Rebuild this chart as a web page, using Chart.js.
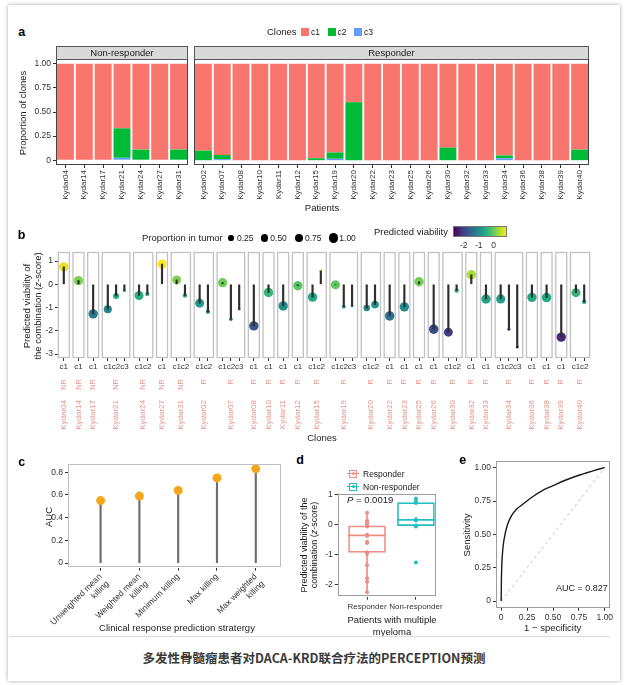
<!DOCTYPE html>
<html><head><meta charset="utf-8">
<script src="https://cdn.jsdelivr.net/npm/chart.js@4/dist/chart.umd.min.js"></script>
<style>
html,body{margin:0;padding:0;background:#fff;width:630px;height:685px;overflow:hidden;font-family:"Liberation Sans",Arial,Helvetica,sans-serif;}
#card{position:absolute;left:8px;top:5px;width:612px;height:676px;background:#fff;box-shadow:0 0 4px rgba(0,0,0,0.35);}
canvas{position:absolute;z-index:1;}
.t{position:absolute;white-space:nowrap;color:#1a1a1a;line-height:1;z-index:2;}
.sw{position:absolute;z-index:2;}
</style></head><body>
<div id="card"></div>
<canvas id="a1" width="192" height="170" style="left:0;top:40px"></canvas>
<canvas id="a2" width="402" height="170" style="left:190px;top:40px"></canvas>
<canvas id="b" width="600" height="205" style="left:0;top:240px"></canvas>
<canvas id="c" width="290" height="190" style="left:0;top:450px"></canvas>
<canvas id="d" width="160" height="160" style="left:290px;top:470px"></canvas>
<canvas id="e" width="170" height="190" style="left:450px;top:450px"></canvas>
<script>
// ================= DATA =================
const patients = ['Kydar04','Kydar14','Kydar17','Kydar21','Kydar24','Kydar27','Kydar31',
  'Kydar02','Kydar07','Kydar08','Kydar10','Kydar11','Kydar12','Kydar15','Kydar19','Kydar20','Kydar22','Kydar23',
  'Kydar25','Kydar26','Kydar30','Kydar32','Kydar33','Kydar34','Kydar36','Kydar38','Kydar39','Kydar40'];
const responseGroup = ['NR','NR','NR','NR','NR','NR','NR',
  'R','R','R','R','R','R','R','R','R','R','R','R','R','R','R','R','R','R','R','R','R'];
const cloneNames = ['c1','c2','c3'];
// proportion of each clone per patient (panel a)
const propC1 = [1,1,1,0.67,0.89,1,0.89, 0.90,0.945,1,1,1,1,0.98,0.92,0.40,1,1,1,1,0.87,1,1,0.95,1,1,1,0.89];
const propC2 = [0,0,0,0.305,0.11,0,0.11, 0.10,0.045,0,0,0,0,0.02,0.065,0.60,0,0,0,0,0.13,0,0,0.03,0,0,0,0.11];
const propC3 = [0,0,0,0.025,0,0,0, 0,0.01,0,0,0,0,0,0.015,0,0,0,0,0,0,0,0,0.02,0,0,0,0];
const yTicksA = [0,0.25,0.5,0.75,1];
const yTickLabelsA = ['0','0.25','0.50','0.75','1.00'];
// predicted viability z-score per clone (panel b)
const viabC1 = [0.75,0.16,-1.27,-1.07,-0.48,0.87,0.19, -0.81,0.07,-1.79,-0.35,-0.93,-0.06,-0.55,-0.02,-1.02,-1.36,-0.97,0.11,-1.93,-2.06,0.41,-0.63,-0.63,-0.56,-0.57,-2.27,-0.36];
const viabC2 = [null,null,null,-0.50,-0.42,null,-0.48, -1.18,-1.50,null,null,null,null,0.57,-0.96,-0.87,null,null,null,null,-0.27,null,null,-1.93,null,null,null,-0.75];
const viabC3 = [null,null,null,-0.27,null,null,null, null,-1.07,null,null,null,null,null,-0.93,null,null,null,null,null,null,null,null,-2.70,null,null,null,null];
const yTicksB = [-3,-2,-1,0,1];
// panel c
const strategies = [['Unweighted mean','killing'],['Weighted mean','killing'],'Minimum killing','Max killing',['Max weighted','killing']];
const aucValues = [0.55,0.59,0.64,0.75,0.83];
const yTicksC = [0,0.2,0.4,0.6,0.8];
const yTickLabelsC = ['0','0.2','0.4','0.6','0.8'];
// panel d
const groupsD = ['Responder','Non-responder'];
const respPoints = [0.40,0.13,0.08,0.03,0.0,-0.03,-0.06,-0.34,-0.38,-0.57,-0.62,-0.93,-0.98,-1.36,-1.80,-1.92,-2.27];
const nonRespPoints = [0.88,0.78,0.73,0.18,0.14,-0.03,-0.06,-1.27];
const boxQ1 = [-0.93,-0.03];
const boxMedian = [-0.36,0.16];
const boxQ3 = [-0.04,0.74];
const whiskerLow = [-2.27,-0.06];
const whiskerHigh = [0.40,0.88];
const yTicksD = [-2,-1,0,1];
// panel e
const rocFPR = [0,0.002,0.005,0.01,0.02,0.04,0.06,0.1,0.15,0.2,0.3,0.4,0.5,0.6,0.7,0.8,0.9,1];
const rocTPR = [0,0.15,0.25,0.33,0.42,0.51,0.57,0.64,0.69,0.72,0.78,0.83,0.865,0.9,0.93,0.955,0.98,1];
const ticksE = [0,0.25,0.5,0.75,1];
const tickLabelsE = ['0','0.25','0.50','0.75','1.00'];

// ================= STYLE =================
const FONT = '"Liberation Sans", Arial, Helvetica, sans-serif';
Chart.defaults.font.family = FONT;
Chart.defaults.font.size = 8;
Chart.defaults.color = '#333';
Chart.defaults.animation = false;
Chart.defaults.responsive = false;
Chart.defaults.events = [];
Chart.defaults.plugins.legend.display = false;
Chart.defaults.plugins.tooltip.enabled = false;

const cloneColors = ['#F8766D','#00BA38','#619CFF'];
const VIR = ['#440154','#482475','#414487','#355f8d','#2a788e','#21918c','#22a884','#44bf70','#7ad151','#bddf26','#fde725'];
const VIR_MIN = -2.7, VIR_MAX = 0.87;
function hex2rgb(h){return [1,3,5].map(i=>parseInt(h.substr(i,2),16));}
function viridis(v){
  let t = (v-VIR_MIN)/(VIR_MAX-VIR_MIN); t=Math.max(0,Math.min(1,t));
  const s=t*(VIR.length-1), i=Math.min(Math.floor(s),VIR.length-2), f=s-i;
  const a=hex2rgb(VIR[i]), b=hex2rgb(VIR[i+1]);
  return 'rgb('+a.map((x,k)=>Math.round(x+(b[k]-x)*f)).join(',')+')';
}
const fixW = w => s => { s.width = w; };
const fixH = h => s => { s.height = h; };
const ticksAt = vals => ax => { ax.ticks = vals.map(v => ({value: v})); };
const tickGrid = {display:true, drawOnChartArea:false, tickLength:3, color:'#333', offset:false};

function framePlugin(color, lw){
  return {id:'frame', afterDatasetsDraw(chart){
    const {ctx, chartArea:a} = chart; ctx.save(); ctx.strokeStyle=color; ctx.lineWidth=lw;
    ctx.strokeRect(Math.round(a.left)+0.5, Math.round(a.top)+0.5, Math.round(a.right-a.left)-1, Math.round(a.bottom-a.top)-1);
    ctx.restore(); }};
}
function stripPlugin(text){
  return {id:'strip', afterDraw(chart){
    const {ctx, chartArea:a} = chart; ctx.save();
    ctx.fillStyle='#d9d9d9'; ctx.fillRect(a.left, a.top-13, a.right-a.left, 13);
    ctx.strokeStyle='#555'; ctx.lineWidth=1;
    ctx.strokeRect(Math.round(a.left)+0.5, Math.round(a.top-13)+0.5, Math.round(a.right-a.left)-1, 13);
    ctx.fillStyle='#1a1a1a'; ctx.font='9.5px '+FONT; ctx.textAlign='center'; ctx.textBaseline='middle';
    ctx.fillText(text, (a.left+a.right)/2, a.top-6);
    ctx.restore(); }};
}

// ================= PANEL A =================
function panelA(id, group, showY, padL, padR, title){
  const idx = patients.map((p,i)=>i).filter(i=>responseGroup[i]===group);
  const yScale = {display:showY, stacked:true, min:-0.05, max:1.05, grid:tickGrid, border:{display:false},
           afterBuildTicks: ticksAt(yTicksA),
           ticks:{padding:2, font:{size:8.5}, color:'#333', callback:(v,i)=>yTickLabelsA[i]}};
  if (showY) yScale.afterFit = fixW(56);
  new Chart(document.getElementById(id), {
    type:'bar',
    data:{labels: idx.map(i=>patients[i]), datasets:[
      {label:'c3', data: idx.map(i=>propC3[i]), backgroundColor: cloneColors[2]},
      {label:'c2', data: idx.map(i=>propC2[i]), backgroundColor: cloneColors[1]},
      {label:'c1', data: idx.map(i=>propC1[i]), backgroundColor: cloneColors[0]}
    ]},
    options:{
      layout:{padding:{left:padL, right:padR, top:19, bottom:0}},
      datasets:{bar:{barPercentage:0.9, categoryPercentage:1, borderWidth:0}},
      scales:{
        x:{stacked:true, grid:tickGrid, border:{display:false},
           ticks:{minRotation:90, maxRotation:90, autoSkip:false, padding:2, font:{size:8}, color:'#333'},
           afterFit: fixH(45)},
        y: yScale
      }
    },
    plugins:[framePlugin('#444',1), stripPlugin(title)]
  });
}
panelA('a1','NR',true,0,4,'Non-responder');
panelA('a2','R',false,4,3,'Responder');

// ================= PANEL B =================
const WITHIN = 1, BETWEEN = 1.77, FACET_PAD = 0.66;
const clones = [], facets = [];
(function(){
  let pos = 0;
  patients.forEach((p,i)=>{
    if (i>0) pos += BETWEEN;
    const props=[propC1[i],propC2[i],propC3[i]], vals=[viabC1[i],viabC2[i],viabC3[i]];
    const start = pos; let first = true;
    [0,1,2].forEach(k=>{
      if (props[k]>0 && vals[k]!==null){
        if(!first) pos += WITHIN; first=false;
        clones.push({x:pos, v:vals[k], p:props[k], name:cloneNames[k]});
      }
    });
    facets.push({first:start, last:pos, center:(start+pos)/2, group:responseGroup[i], name:p});
  });
})();
const bMin = clones[0].x - 0.7, bMax = clones[clones.length-1].x + 0.7;
const sizeOf = p => 0.95 + 3.75*Math.sqrt(p);
const salmon = '#E8948C';
new Chart(document.getElementById('b'), {
  type:'scatter',
  data:{datasets:[
    {type:'bar', data: clones.map(c=>({x:c.x, y:[0,c.v]})), backgroundColor:'#2e2e2e', barThickness:1.5, order:0},
    {type:'scatter', data: clones.map(c=>({x:c.x, y:c.v})), pointRadius: clones.map(c=>sizeOf(c.p)),
     pointBackgroundColor: clones.map(c=>viridis(c.v)), pointBorderWidth:0, order:1}
  ]},
  options:{
    layout:{padding:{left:0, right:10, top:12, bottom:0}},
    scales:{
      x:{type:'linear', axis:'x', position:'bottom', weight:0, min:bMin, max:bMax, bounds:'data', offset:false,
         grid:tickGrid, border:{display:false}, afterBuildTicks: ticksAt(clones.map(c=>c.x)),
         ticks:{autoSkip:false, minRotation:0, maxRotation:0, padding:1, font:{size:8}, color:'#333', callback:(v,i)=>clones[i].name},
         afterFit: fixH(13)},
      x2:{type:'linear', axis:'x', position:'bottom', weight:1, min:bMin, max:bMax, bounds:'data', offset:false,
         grid:{display:false, offset:false}, border:{display:false}, afterBuildTicks: ticksAt(facets.map(f=>f.center)),
         ticks:{autoSkip:false, minRotation:90, maxRotation:90, padding:0, font:{size:7.5}, color:salmon, callback:(v,i)=>facets[i].group},
         afterFit: fixH(19)},
      x3:{type:'linear', axis:'x', position:'bottom', weight:2, min:bMin, max:bMax, bounds:'data', offset:false,
         grid:{display:false, offset:false}, border:{display:false}, afterBuildTicks: ticksAt(facets.map(f=>f.center)),
         ticks:{autoSkip:false, minRotation:90, maxRotation:90, padding:2, font:{size:8}, color:salmon, callback:(v,i)=>facets[i].name},
         afterFit: fixH(55)},
      y:{type:'linear', min:-3.17, max:1.39, stacked:false, grid:tickGrid, border:{display:false},
         afterBuildTicks: ticksAt(yTicksB), ticks:{padding:2, font:{size:8.5}, color:'#333', callback:v=>String(v)},
         afterFit: fixW(58)}
    }
  },
  plugins:[{id:'facets', beforeDatasetsDraw(chart){
    const {ctx, chartArea:a, scales:{x}} = chart; ctx.save(); ctx.strokeStyle='#c2c2c2'; ctx.lineWidth=1.3;
    facets.forEach(f=>{ const l=x.getPixelForValue(f.first-FACET_PAD), r=x.getPixelForValue(f.last+FACET_PAD);
      ctx.strokeRect(l, a.top+0.5, r-l, a.bottom-a.top-1); });
    ctx.restore(); }}]
});

// ================= PANEL C =================
new Chart(document.getElementById('c'), {
  type:'scatter',
  data:{datasets:[
    {type:'bar', data: aucValues.map((v,i)=>({x:i, y:[0,v]})), backgroundColor:'#6e6e6e', barThickness:1.5, order:1},
    {type:'scatter', data: aucValues.map((v,i)=>({x:i, y:v})), pointRadius:4.5, pointBackgroundColor:'#F4A71D', pointBorderWidth:0, order:0}
  ]},
  options:{
    layout:{padding:{left:0, right:9, top:14.3, bottom:0}},
    scales:{
      x:{type:'linear', min:-0.84, max:4.65, bounds:'data', offset:false, grid:tickGrid, border:{display:false},
         afterBuildTicks: ticksAt(aucValues.map((v,i)=>i)),
         ticks:{autoSkip:false, minRotation:45, maxRotation:45, padding:1, font:{size:8.5}, color:'#333', callback:(v,i)=>strategies[i]},
         afterFit: fixH(72.3)},
      y:{min:-0.041, max:0.87, stacked:false, grid:tickGrid, border:{display:false}, afterBuildTicks: ticksAt(yTicksC),
         ticks:{padding:2, font:{size:8.5}, color:'#333', callback:(v,i)=>yTickLabelsC[i]}, afterFit: fixW(68)}
    }
  },
  plugins:[framePlugin('#bdbdbd',1)]
});

// ================= PANEL D =================
const colR = '#EE8E86', colNR = '#22BFC4';
const grpCols = [colR, colNR];
new Chart(document.getElementById('d'), {
  type:'scatter',
  data:{datasets:[
    {type:'bar', stack:'s', data: groupsD.map((g,i)=>({x:i, y:[whiskerLow[i], boxQ1[i]]})), backgroundColor:grpCols, barThickness:1, order:2},
    {type:'bar', stack:'s', data: groupsD.map((g,i)=>({x:i, y:[boxQ3[i], whiskerHigh[i]]})), backgroundColor:grpCols, barThickness:1, order:2},
    {type:'bar', stack:'s', data: groupsD.map((g,i)=>({x:i, y:[boxQ1[i], boxQ3[i]]})), backgroundColor:'rgba(255,255,255,0)',
     borderColor:grpCols, borderWidth:1, borderSkipped:false, barThickness:37, order:2},
    {type:'bar', stack:'s', data: groupsD.map((g,i)=>({x:i, y:[boxMedian[i]-0.02, boxMedian[i]+0.02]})), backgroundColor:grpCols, barThickness:37, order:1},
    {type:'scatter', data: respPoints.map(v=>({x:0,y:v})).concat(nonRespPoints.map(v=>({x:1,y:v}))),
     pointRadius:2, pointBorderWidth:0,
     pointBackgroundColor: respPoints.map(()=>colR).concat(nonRespPoints.map(()=>colNR)), order:0}
  ]},
  options:{
    layout:{padding:{left:0, right:14.5, top:24.3, bottom:0}},
    scales:{
      x:{type:'linear', min:-0.6, max:1.4, bounds:'data', offset:false, grid:tickGrid, border:{display:false},
         afterBuildTicks: ticksAt([0,1]),
         ticks:{autoSkip:false, minRotation:0, maxRotation:0, padding:2, font:{size:8}, color:'#333', callback:(v,i)=>groupsD[i]},
         afterFit: fixH(33.3)},
      y:{min:-2.42, max:1.02, stacked:false, grid:tickGrid, border:{display:false}, afterBuildTicks: ticksAt(yTicksD),
         ticks:{padding:2, font:{size:8.5}, color:'#333', callback:v=>String(v)}, afterFit: fixW(47.7)}
    }
  },
  plugins:[framePlugin('#9e9e9e',1)]
});

// ================= PANEL E =================
new Chart(document.getElementById('e'), {
  type:'scatter',
  data:{datasets:[
    {data:[{x:0,y:0},{x:1,y:1}], showLine:true, borderColor:'#c4c4c4', borderWidth:1, borderDash:[3,3], pointRadius:0, order:1},
    {data: rocFPR.map((x,i)=>({x, y:rocTPR[i]})), showLine:true, borderColor:'#1a1a1a', borderWidth:1.4,
     pointRadius:0, cubicInterpolationMode:'monotone', order:0}
  ]},
  options:{
    layout:{padding:{left:0, right:10, top:11, bottom:0}},
    scales:{
      x:{type:'linear', min:-0.05, max:1.05, bounds:'data', grid:tickGrid, border:{display:false}, afterBuildTicks: ticksAt(ticksE),
         ticks:{autoSkip:false, maxRotation:0, padding:2, font:{size:8.5}, color:'#333', callback:(v,i)=>tickLabelsE[i]}, afterFit: fixH(32.3)},
      y:{type:'linear', min:-0.05, max:1.05, bounds:'data', grid:tickGrid, border:{display:false}, afterBuildTicks: ticksAt(ticksE),
         ticks:{padding:2, font:{size:8.5}, color:'#333', callback:(v,i)=>tickLabelsE[i]}, afterFit: fixW(46)}
    }
  },
  plugins:[framePlugin('#9e9e9e',1)]
});

// ================= TEXT / LEGENDS =================
function T(html, x, y, o={}){
  const d=document.createElement('div'); d.className='t'; d.innerHTML=html;
  d.style.fontSize=(o.size||9.5)+'px';
  if(o.bold) d.style.fontWeight='bold';
  if(o.color) d.style.color=o.color;
  if(o.family) d.style.fontFamily=o.family;
  d.style.left=x+'px'; d.style.top=y+'px';
  const tx = o.anchor==='left' ? '0' : '-50%';
  d.style.transform='translate('+tx+',-50%)'+(o.rot?' rotate('+o.rot+'deg)':'');
  document.body.appendChild(d); return d;
}
function box(x,y,w,h,css){ const d=document.createElement('div'); d.className='sw';
  d.style.left=x+'px'; d.style.top=y+'px'; d.style.width=w+'px'; d.style.height=h+'px'; Object.assign(d.style, css||{});
  document.body.appendChild(d); return d; }

// panel letters
T('a',21.7,32.3,{bold:true,size:12.5,color:'#000'});
T('b',21.7,235,{bold:true,size:12.5,color:'#000'});
T('c',21.7,462,{bold:true,size:12.5,color:'#000'});
T('d',300,460,{bold:true,size:12.5,color:'#000'});
T('e',462.7,460,{bold:true,size:12.5,color:'#000'});

// panel a legend and titles
T('Clones',267,32,{anchor:'left',size:9.5});
[301,327.5,354].forEach((x,k)=>{ box(x,28,8,8,{background:cloneColors[k]}); T(cloneNames[k],x+10,32,{anchor:'left',size:8.5}); });
T('Proportion of clones',23,113,{rot:-90,size:9.5});
T('Patients',322,208,{size:9.5});

// panel b legends and titles
T('Proportion in tumor',142,238,{anchor:'left',size:9.5});
[[231,0.25,'0.25'],[264.3,0.5,'0.50'],[299,0.75,'0.75'],[333.3,1,'1.00']].forEach(([x,p,l])=>{
  const r=sizeOf(p); box(x-r,238-r,2*r,2*r,{background:'#000',borderRadius:'50%'}); T(l,x+6,238,{anchor:'left',size:8.5});
});
T('Predicted viability',374,231.7,{anchor:'left',size:9.5});
box(453.3,226,53.4,10.7,{background:'linear-gradient(to right,'+VIR.join(',')+')',border:'1px solid #777',boxSizing:'border-box'});
[-2,-1,0].forEach(v=>{ const x=453.3+(v-VIR_MIN)/(VIR_MAX-VIR_MIN)*53.4; T(String(v),x,245,{size:8.5,color:'#333'}); });
T('Predicted viability of',26.7,306,{rot:-90,size:9.5});
T('the combination (<i>z</i>-score)',37.8,306,{rot:-90,size:9.5});
T('Clones',322,437.5,{size:9.5});

// panel c titles
T('AUC',49.3,517,{rot:-90,size:9.5});
T('Clinical response prediction stratergy',177,628,{size:9.5});

// panel d legend and titles
[[colR,'Responder',473.5],[colNR,'Non-responder',486.5]].forEach(([c,l,y])=>{
  box(347,y-0.5,12,1,{background:c});
  box(349,y-4,8,8,{border:'1px solid '+c,boxSizing:'border-box',background:'#fff'});
  box(349,y-0.5,8,1,{background:c});
  box(351.5,y-1.5,3,3,{background:c,borderRadius:'50%'});
  T(l,363,y,{anchor:'left',size:8.5});
});
T('<i>P</i> = 0.0019',347,500,{anchor:'left',size:9.5});
T('Predicted viability of the',304,545,{rot:-90,size:9});
T('combination (<i>z</i>-score)',313.5,545,{rot:-90,size:9});
T('Patients with multiple',392,620.3,{size:9.5});
T('myeloma',392,632.3,{size:9.5});

// panel e titles
T('Sensitivity',466.7,535,{rot:-90,size:9.5});
T('1 − specificity',552.7,628,{size:9.5});
T('AUC = 0.827',556,588,{anchor:'left',size:9});

// separator and caption
box(10,636,600,1,{background:'#dcdcdc'});
T('多发性骨髓瘤患者对DACA-KRD联合疗法的PERCEPTION预测',314,658,{bold:true,size:12.5,color:'#3a3a3a',family:'"Noto Sans CJK SC","Noto Sans",sans-serif'});
</script>
</body></html>
